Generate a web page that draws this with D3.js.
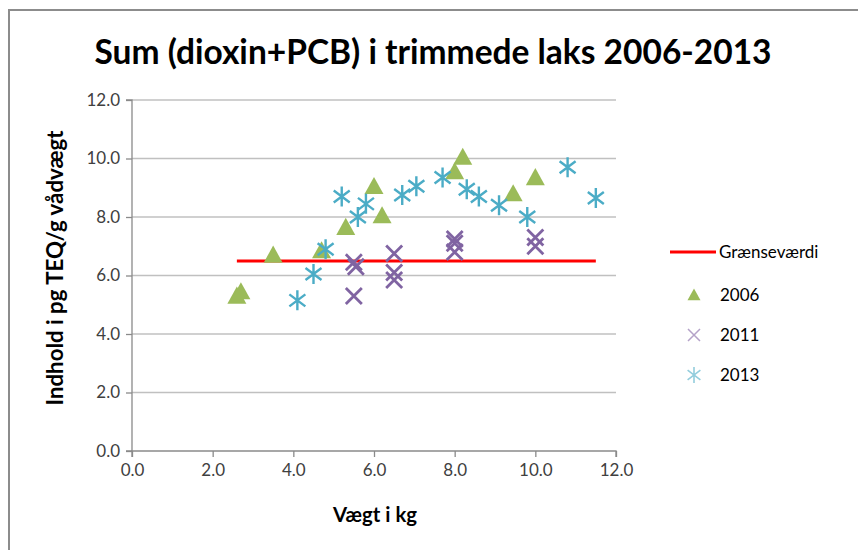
<!DOCTYPE html>
<html>
<head>
<meta charset="utf-8">
<script src="https://cdn.jsdelivr.net/npm/d3@7"></script>
<style>
  html, body { margin: 0; padding: 0; background: #fff; }
  svg { display: block; }
  text { font-family: Lato, "Open Sans", "Liberation Sans", sans-serif; }
</style>
</head>
<body>
<svg id="chart" width="858" height="550"></svg>
<script>
// Weight (kg) and content (pg TEQ/g wet weight) per sample year
const x2006 = [2.6, 2.7, 3.5, 4.7, 5.3, 6.0, 6.2, 8.0, 8.2, 9.45, 10.0];
const y2006 = [5.3, 5.45, 6.7, 6.85, 7.65, 9.05, 8.05, 9.55, 10.05, 8.8, 9.35];

const x2011 = [5.5, 5.55, 5.5, 6.5, 6.5, 6.5, 8.0, 8.0, 8.0, 10.0, 10.0];
const y2011 = [6.45, 6.3, 5.3, 6.75, 6.1, 5.85, 7.25, 7.1, 6.8, 7.3, 7.0];

const x2013 = [4.1, 4.5, 4.8, 5.2, 5.6, 5.8, 6.7, 7.05, 7.7, 8.3, 8.6, 9.1, 9.8, 10.8, 11.5];
const y2013 = [5.15, 6.05, 6.9, 8.7, 8.0, 8.45, 8.75, 9.05, 9.35, 8.95, 8.7, 8.4, 8.0, 9.7, 8.65];

// Limit value line
const limitX = [2.6, 11.5];
const limitY = [6.5, 6.5];

const xTicks = [0, 2, 4, 6, 8, 10, 12];
const yTicks = [0, 2, 4, 6, 8, 10, 12];

const titleText = "Sum (dioxin+PCB) i trimmede laks 2006-2013";
const xTitle = "Vægt i kg";
const yTitle = "Indhold i pg TEQ/g vådvægt";
const legendLabels = ["Grænseværdi", "2006", "2011", "2013"];

const colors = { limit: "#ff0000", y2006: "#9bbb59", y2011: "#8064a2", y2013: "#4bacc6" };

const svg = d3.select("#chart");

// outer chart frame
svg.append("rect")
  .attr("x", 9).attr("y", 10).attr("width", 860).attr("height", 560)
  .attr("fill", "none").attr("stroke", "#8c8c8c").attr("stroke-width", 2);

const x = d3.scaleLinear().domain([0, 12]).range([132, 616]);
const y = d3.scaleLinear().domain([0, 12]).range([451, 100]);

// horizontal gridlines
svg.append("g").selectAll("line").data(yTicks.filter(d => d > 0)).join("line")
  .attr("x1", x(0)).attr("x2", x(12))
  .attr("y1", d => y(d)).attr("y2", d => y(d))
  .attr("stroke", "#c0c0c0").attr("stroke-width", 1.3);

// axes
const fmt = d3.format(".1f");
const xAxis = svg.append("g").attr("transform", `translate(0,${y(0)})`)
  .call(d3.axisBottom(x).tickValues(xTicks).tickFormat(fmt).tickSize(6).tickPadding(7));
const yAxis = svg.append("g").attr("transform", `translate(${x(0)},0)`)
  .call(d3.axisLeft(y).tickValues(yTicks).tickFormat(fmt).tickSize(6).tickPadding(6));
[xAxis, yAxis].forEach(g => {
  g.selectAll("path, line").attr("stroke", "#8a8a8a").attr("stroke-width", 1.3);
  g.selectAll("text").attr("fill", "#404040").style("font-size", "17px")
    .style("font-family", "Lato, 'Open Sans', sans-serif");
});
xAxis.select(".domain").attr("d", `M${x(0)},6V0H${x(12)}V6`);
yAxis.select(".domain").attr("d", `M-6,${y(12)}H0V${y(0)}H-6`);

// limit line
svg.append("line")
  .attr("x1", x(limitX[0])).attr("x2", x(limitX[1]))
  .attr("y1", y(limitY[0])).attr("y2", y(limitY[1]))
  .attr("stroke", colors.limit).attr("stroke-width", 3);

// marker shapes
function triangle(g, cx, cy, s, color) {
  const h = s * 0.9;
  g.append("path")
    .attr("d", `M${cx},${cy - h * 0.55}L${cx + s / 2},${cy + h * 0.45}L${cx - s / 2},${cy + h * 0.45}Z`)
    .attr("fill", color);
}
function cross(g, cx, cy, r, color, w) {
  g.append("path")
    .attr("d", `M${cx - r},${cy - r}L${cx + r},${cy + r}M${cx - r},${cy + r}L${cx + r},${cy - r}`)
    .attr("stroke", color).attr("stroke-width", w).attr("fill", "none");
}
function star(g, cx, cy, r, color, w) {
  const d = r * 0.8;
  g.append("path")
    .attr("d", `M${cx - d},${cy - d * 0.75}L${cx + d},${cy + d * 0.75}M${cx - d},${cy + d * 0.75}L${cx + d},${cy - d * 0.75}M${cx},${cy - r}L${cx},${cy + r}`)
    .attr("stroke", color).attr("stroke-width", w).attr("fill", "none");
}

const pts = svg.append("g");
x2006.forEach((v, i) => triangle(pts, x(v), y(y2006[i]), 19, colors.y2006));
x2011.forEach((v, i) => cross(pts, x(v), y(y2011[i]), 8, colors.y2011, 2.8));
x2013.forEach((v, i) => star(pts, x(v), y(y2013[i]), 10, colors.y2013, 2.4));

// text that is fitted to a given width: a larger font, gently condensed
function fitted(sel, size, width) {
  sel.style("font-size", size + "px");
  const w = sel.node().getComputedTextLength();
  if (w > width) sel.attr("textLength", width).attr("lengthAdjust", "spacingAndGlyphs");
  else sel.style("font-size", (size * width / w).toFixed(2) + "px");
  return sel;
}

const title = svg.append("text")
  .attr("x", 433).attr("y", 64).attr("text-anchor", "middle")
  .style("font-weight", "bold").attr("fill", "#000")
  .text(titleText);
fitted(title, 34, 677);

const xt = svg.append("text")
  .attr("x", 375).attr("y", 522).attr("text-anchor", "middle")
  .style("font-weight", "bold").attr("fill", "#000")
  .text(xTitle);
fitted(xt, 19, 84);

const yt = svg.append("text")
  .attr("transform", "translate(63,268) rotate(-90)").attr("text-anchor", "middle")
  .style("font-weight", "bold").attr("fill", "#000")
  .text(yTitle);
fitted(yt, 20, 275);

// legend
const lg = svg.append("g");
const ly = [252, 295, 335, 375];
lg.append("line").attr("x1", 670).attr("x2", 716).attr("y1", ly[0]).attr("y2", ly[0])
  .attr("stroke", colors.limit).attr("stroke-width", 3);
triangle(lg, 694, ly[1], 13, colors.y2006);
cross(lg, 694, ly[2], 6, "#b4a2c8", 1.5);
star(lg, 694, ly[3], 8, "#93cddd", 1.6);
legendLabels.forEach((t, i) => {
  lg.append("text").attr("x", i === 0 ? 719 : 720).attr("y", ly[i] + 6)
    .style("font-size", "17px").attr("fill", "#000").text(t);
});
</script>
</body>
</html>
